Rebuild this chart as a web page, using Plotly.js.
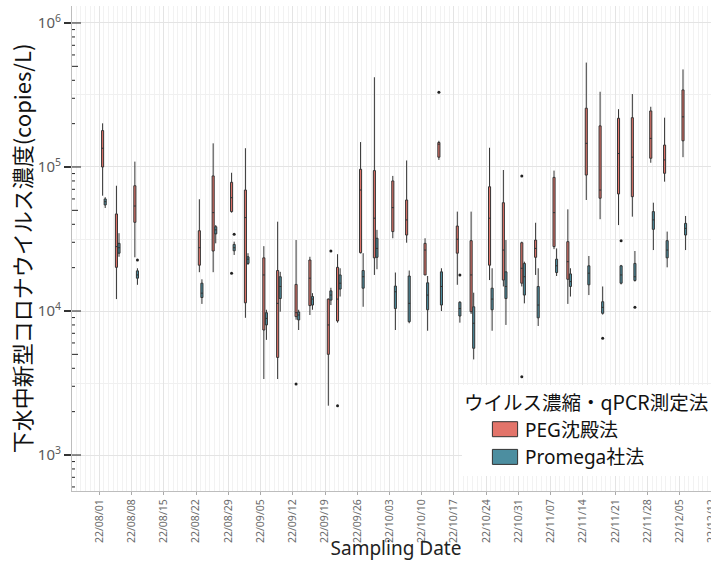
<!DOCTYPE html>
<html><head><meta charset="utf-8">
<script src="https://cdn.plot.ly/plotly-3.0.1.min.js"></script>
<style>html,body{margin:0;padding:0;overflow:hidden;background:#fff}#chart{width:730px;height:561px}</style>
</head><body><div id="chart"></div>
<script>
// ---- data (copies/L) ----
const sampleDates = ['2022-08-02','2022-08-05','2022-08-09','2022-08-23','2022-08-26','2022-08-30','2022-09-02','2022-09-06','2022-09-09','2022-09-13','2022-09-16','2022-09-20','2022-09-22','2022-09-27','2022-09-30','2022-10-04','2022-10-07','2022-10-11','2022-10-14','2022-10-18','2022-10-21','2022-10-25','2022-10-28','2022-11-01','2022-11-04','2022-11-08','2022-11-11','2022-11-15','2022-11-18','2022-11-22','2022-11-25','2022-11-29','2022-12-02','2022-12-06'];

const pegHigh   = [201000,74100,109000,59700,146000,91200,135000,28200,41700,31100,23800,12200,24800,149000,420000,86700,111000,32000,152000,49000,49000,136000,95300,30300,41000,94400,50800,531000,333000,252000,321000,262000,220000,476000];
const pegQ3     = [179000,47200,74100,36100,86700,78300,69200,23400,19100,15300,22600,12100,20100,96400,94400,80000,59000,29500,148000,38900,30800,72900,56500,29800,31100,84700,30300,256000,193000,218000,220000,245000,142000,343000];
const pegMedian = [135000,28000,53600,27500,48200,61200,44500,17800,11300,9730,16900,8000,12100,69200,44100,52200,42900,26500,144000,31500,17800,44100,26500,19800,27200,48200,22000,146000,69200,124000,117000,158000,112000,223000];
const pegQ1     = [100000,20100,41300,20800,26100,49000,11400,7380,4760,9140,10900,5000,8530,25400,23400,35600,33700,17800,117000,25200,9890,20800,16400,15600,23600,28000,16600,87900,60700,65000,62200,115000,90400,152000];
const pegLow    = [63200,12100,23600,18600,18600,48200,8970,3370,3370,8700,9380,2200,8300,25100,17800,32000,29800,17800,112000,15200,9550,16400,14800,14800,17800,26900,11200,59000,43400,39500,45200,107000,79100,117000];

const promegaHigh   = [61700,34700,19800,16600,39500,30300,25200,10200,18700,10200,13300,14500,19800,25200,36600,18500,19100,17500,19800,11700,13400,19800,31100,22000,19800,27200,19800,24100,14800,20900,26100,56500,35600,45700];
const promegaQ3     = [60000,29500,19000,15600,38500,29000,23800,9730,17300,9840,12600,13800,17800,19100,32000,14900,17500,15700,18700,11500,10700,14400,18700,21400,14800,22900,18100,20600,11600,20600,21400,49000,30800,40600];
const promegaMedian = [57400,27500,17800,13300,36600,27500,22900,8890,14800,9380,12100,12900,15600,17300,27200,13600,11300,12900,14800,10400,8220,12100,14800,17300,11000,20600,16000,18300,10600,17800,17300,42900,26500,37500];
const promegaQ1     = [54500,25200,16900,12400,34300,26200,21400,8000,12200,8670,11000,11900,14200,14400,23600,10400,8430,10200,11000,9230,5510,10200,12200,12900,8970,18500,14800,15200,9640,15600,16300,36900,23400,33700];
const promegaLow    = [51900,23800,15200,11200,29500,24500,20900,6300,9890,7380,10200,11000,12600,10700,19500,7380,8220,7290,10000,8300,4610,7290,8000,11300,7870,17500,12600,12900,9440,15300,16000,26500,20100,26500];

const pegOutlierDates  = ['2022-08-30','2022-09-13','2022-09-22','2022-10-14','2022-11-01','2022-11-01'];
const pegOutlierValues = [18300,3110,2200,330000,86700,3490];
const promegaOutlierDates  = ['2022-08-09','2022-08-30','2022-09-20','2022-10-18','2022-11-18','2022-11-22','2022-11-25'];
const promegaOutlierValues = [22600,34100,26100,17800,6460,30800,10600];

const seriesNames = ['PEG沈殿法','Promega社法'];
const yTickValues = [1e3,1e4,1e5,1e6];
const yTickText = ['10<sup>3</sup>','10<sup>4</sup>','10<sup>5</sup>','10<sup>6</sup>'];

// ---- styling / layout ----
const COLORS = ['#E3746A','#4C8EA0'];
const BOX_GAP = 0.44, BOX_GROUP_GAP = 0.2;
const DAY = 86400000;
const W = 730, H = 561, M = {l:72, r:10, t:6, b:70};
const plotW = W - M.l - M.r;
const yRange = [2.75, 6.118];
const dodge = 0.5 * (1 - BOX_GAP) * DAY; // Plotly group offset (min spacing 2 days -> dPos 1 day)

function boxTrace(i, hi, q3, med, q1, lo) {
  return {
    type:'box', name: seriesNames[i], x: sampleDates,
    q1: q1, median: med, q3: q3, lowerfence: lo, upperfence: hi,
    boxpoints: false, whiskerwidth: 0,
    fillcolor: COLORS[i], line: {color:'#333', width:1},
    offsetgroup: String(i)
  };
}
function outlierTrace(dates, vals, sign) {
  return {
    type:'scatter', mode:'markers', showlegend:false, hoverinfo:'y',
    x: dates.map(d => Date.parse(d) + sign*dodge), y: vals,
    marker: {color:'#222', size:3}
  };
}

const data = [
  boxTrace(0, pegHigh, pegQ3, pegMedian, pegQ1, pegLow),
  boxTrace(1, promegaHigh, promegaQ3, promegaMedian, promegaQ1, promegaLow),
  outlierTrace(pegOutlierDates, pegOutlierValues, -1),
  outlierTrace(promegaOutlierDates, promegaOutlierValues, 1)
];

// log ticks inside the panel (long at 10^n, mid at 5x10^n, short otherwise)
const shapes = [];
for (let n = 2; n <= 6; n++) for (let k = 1; k <= 9; k++) {
  const v = k * Math.pow(10, n);
  if (Math.log10(v) < yRange[0] || Math.log10(v) > yRange[1]) continue;
  const len = k === 1 ? 9 : (k === 5 ? 6 : 3);
  shapes.push({type:'line', xref:'paper', yref:'y', x0:0, x1:len/plotW, y0:v, y1:v, line:{color:'#222', width:1}});
}

const layout = {
  width: W, height: H, margin: M,
  paper_bgcolor:'#fff', plot_bgcolor:'#fff',
  boxmode:'group', boxgap: BOX_GAP, boxgroupgap: BOX_GROUP_GAP,
  font: {family:'Noto Sans, Noto Sans CJK JP, sans-serif', color:'#222'},
  xaxis: {
    type:'date', range:['2022-07-26 01:47','2022-12-13 18:00'],
    tick0:'2022-08-01', dtick: 7*DAY, tickformat:'%y/%m/%d', tickangle:-90,
    tickfont:{size:10.5, color:'#6a6a6a'}, ticks:'outside', ticklen:3, tickcolor:'#aaa',
    showgrid:true, gridcolor:'#e4e4e4', gridwidth:1,
    minor:{dtick:DAY, tick0:'2022-08-01', showgrid:true, gridcolor:'#f2f2f2', gridwidth:1, ticks:''},
    showline:true, linecolor:'#bdbdbd', linewidth:1, zeroline:false,
    title:{text:'Sampling Date', font:{size:19, color:'#222'}, standoff:10}
  },
  yaxis: {
    type:'log', range: yRange,
    tickmode:'array', tickvals: yTickValues, ticktext: yTickText,
    tickfont:{size:15, color:'#5a5a5a'}, ticks:'outside', ticklen:7, tickwidth:1.5, tickcolor:'#333',
    showgrid:true, gridcolor:'#e4e4e4', gridwidth:1,
    minor:{tickmode:'array', tickvals:[Math.pow(10,2.5),Math.pow(10,3.5),Math.pow(10,4.5),Math.pow(10,5.5)], showgrid:true, gridcolor:'#f0f0f0', gridwidth:1, ticks:''},
    showline:true, linecolor:'#bdbdbd', linewidth:1, zeroline:false,
    title:{text:'下水中新型コロナウイルス濃度(copies/L)', font:{size:22, color:'#111', family:'Noto Sans CJK JP, sans-serif'}, standoff:0}
  },
  showlegend:true,
  legend: {
    x:(462-M.l)/plotW, y:(491-385)/485, xanchor:'left', yanchor:'top',
    bgcolor:'#fff', borderwidth:0, indentation:23, tracegroupgap:0,
    title:{text:'ウイルス濃縮・qPCR測定法', font:{size:19.5, color:'#111', family:'Noto Sans CJK JP, sans-serif'}},
    font:{size:19, color:'#111', family:'Noto Sans, Noto Sans CJK JP, sans-serif'}
  },
  shapes: shapes
};

Plotly.newPlot('chart', data, layout, {displayModeBar:false, staticPlot:true}).then(gd => {
  gd.querySelectorAll('.legend path.legendbox').forEach(p => {
    const t = p.getAttribute('transform') || '';
    p.setAttribute('transform', t + ' scale(2.1,1.25)');
    p.style.vectorEffect = 'non-scaling-stroke';
  });
});
</script>
</body></html>
